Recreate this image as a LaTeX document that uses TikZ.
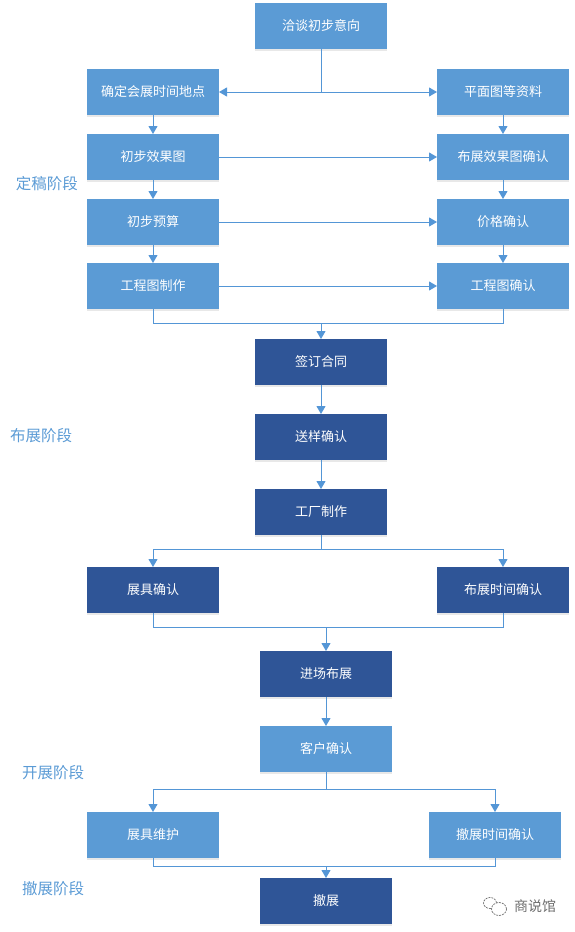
\documentclass[tikz,border=0pt]{standalone}
\usepackage{fontspec}
\setmainfont{Noto Sans CJK SC}
\definecolor{clLight}{HTML}{5B9BD5}
\definecolor{clDark}{HTML}{2F5597}
\definecolor{clLine}{HTML}{5496D6}
\definecolor{clMark}{HTML}{6E6E6E}
\usetikzlibrary{arrows.meta,positioning,shadows,shapes.geometric}
\tikzset{
  box/.style={rectangle, align=center, text=white, minimum width=132pt, minimum height=46pt,
              inner sep=0pt, outer sep=0pt, font=\fontsize{13}{15}\selectfont,
              drop shadow={shadow xshift=0pt, shadow yshift=-1.5pt, opacity=0.15, fill=black!60}},
  lightbox/.style={box, fill=clLight},
  darkbox/.style={box, fill=clDark},
  stage/.style={text=clLight, inner sep=0pt, font=\fontsize{15.5}{17}\selectfont},
  link/.style={line width=1pt, draw=clLine},
  flow/.style={link, -{Triangle[length=8pt, width=9pt]}},
  bubble/.style={ellipse, draw=clMark, line width=0.7pt, dash pattern=on 2pt off 1pt, fill=white, inner sep=0pt},
}
\begin{document}
\begin{tikzpicture}[x=1pt, y=1pt]
  \useasboundingbox (0,0) rectangle (574,-932);
  \node[lightbox] (intent) at (321,-26) {洽谈初步意向};
  % first stage
  \node[lightbox, below left=20pt and 36pt of intent] (site) {确定会展时间地点};
  \node[lightbox, below=19pt of site] (render) {初步效果图};
  \node[lightbox, below=19pt of render] (budget) {初步预算};
  \node[lightbox, below=18pt of budget] (drawing) {工程图制作};
  \node[lightbox, below right=20pt and 50pt of intent] (plan) {平面图等资料};
  \node[lightbox, below=19pt of plan] (renderok) {布展效果图确认};
  \node[lightbox, below=19pt of renderok] (priceok) {价格确认};
  \node[lightbox, below=18pt of priceok] (drawingok) {工程图确认};
  % second stage
  \node[darkbox, below right=30pt and 36pt of drawing] (contract) {签订合同};
  \node[darkbox, below=29pt of contract] (sample) {送样确认};
  \node[darkbox, below=29pt of sample] (factory) {工厂制作};
  \node[darkbox, below left=32pt and 36pt of factory] (itemok) {展具确认};
  \node[darkbox, below right=32pt and 50pt of factory] (timeok) {布展时间确认};
  % third stage
  \node[darkbox, below right=38pt and 41pt of itemok] (enter) {进场布展};
  \node[lightbox, below=29pt of enter] (client) {客户确认};
  \node[lightbox, below left=40pt and 41pt of client] (upkeep) {展具维护};
  \node[lightbox, below right=40pt and 37pt of client] (leaveok) {撤展时间确认};
  \node[darkbox, below right=20pt and 41pt of upkeep] (leave) {撤展};
  % stage labels
  \node[stage] (stageA) at (47,-184) {定稿阶段};
  \node[stage] (stageB) at (41,-436) {布展阶段};
  \node[stage] (stageC) at (53,-773) {开展阶段};
  \node[stage] (stageD) at (53,-889) {撤展阶段};
  % junctions
  \coordinate[above=16pt of contract] (joinA);
  \coordinate[below=14pt of factory] (splitB);
  \coordinate[above=24pt of enter] (joinC);
  \coordinate[below=17pt of client] (splitD);
  \coordinate[above=12pt of leave] (joinE);
  % connectors
  \draw[flow] (intent.south) |- (site.east);
  \draw[flow] (intent.south) |- (plan.west);
  \draw[flow] (site) -- (render);
  \draw[flow] (render) -- (budget);
  \draw[flow] (budget) -- (drawing);
  \draw[flow] (plan) -- (renderok);
  \draw[flow] (renderok) -- (priceok);
  \draw[flow] (priceok) -- (drawingok);
  \draw[flow] (render) -- (renderok);
  \draw[flow] (budget) -- (priceok);
  \draw[flow] (drawing) -- (drawingok);
  \draw[link] (drawing.south) |- (joinA);
  \draw[link] (drawingok.south) |- (joinA);
  \draw[flow] (joinA) -- (contract.north);
  \draw[flow] (contract) -- (sample);
  \draw[flow] (sample) -- (factory);
  \draw[link] (factory.south) -- (splitB);
  \draw[flow] (splitB) -| (itemok.north);
  \draw[flow] (splitB) -| (timeok.north);
  \draw[link] (itemok.south) |- (joinC);
  \draw[link] (timeok.south) |- (joinC);
  \draw[flow] (joinC) -- (enter.north);
  \draw[flow] (enter) -- (client);
  \draw[link] (client.south) -- (splitD);
  \draw[flow] (splitD) -| (upkeep.north);
  \draw[flow] (splitD) -| (leaveok.north);
  \draw[link] (upkeep.south) |- (joinE);
  \draw[link] (leaveok.south) |- (joinE);
  \draw[flow] (joinE) -- (leave.north);
  % watermark
  \node[text=clMark, inner sep=0pt, font=\fontsize{14}{16}\selectfont] (brand) at (535,-906) {商说馆};
  \node[bubble, minimum width=13pt, minimum height=11pt] (bubbleA) at (490,-903) {};
  \node[bubble, minimum width=15pt, minimum height=13pt] (bubbleB) at (499,-909) {};
\end{tikzpicture}
\end{document}
